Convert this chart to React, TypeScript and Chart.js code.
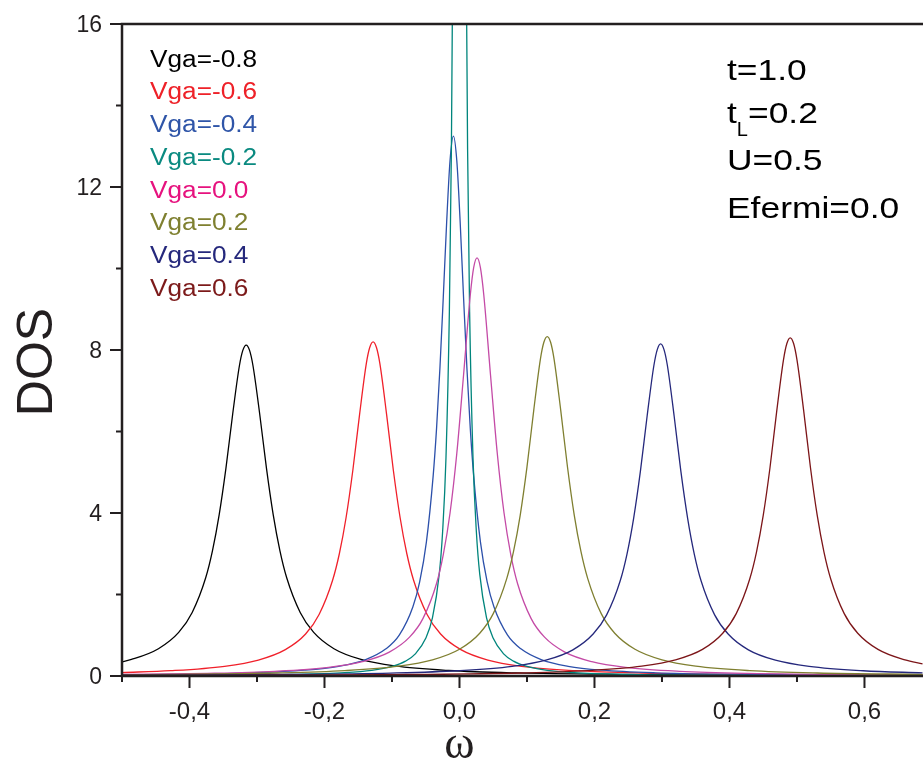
import React, { useEffect, useRef } from 'react';
import { Chart, registerables } from 'chart.js';

Chart.register(...registerables);

// ---------- data ----------
const seriesLabels = ['Vga=-0.8', 'Vga=-0.6', 'Vga=-0.4', 'Vga=-0.2', 'Vga=0.0', 'Vga=0.2', 'Vga=0.4', 'Vga=0.6'];
const lineColors = ['#000000', '#f0202a', '#2c50aa', '#00857c', '#c44aa6', '#7f7f30', '#25287c', '#7c1518'];
const textColors = ['#000000', '#ee2128', '#2f55a8', '#0a8a80', '#e6127e', '#7f8030', '#25287c', '#7c1a1a'];

const paramLines = ['t=1.0', 't_L=0.2', 'U=0.5', 'Efermi=0.0'];

const xTickValues = [-0.5, -0.4, -0.3, -0.2, -0.1, 0.0, 0.1, 0.2, 0.3, 0.4, 0.5, 0.6];
const xTickLabels = ['', '-0,4', '', '-0,2', '', '0,0', '', '0,2', '', '0,4', '', '0,6'];
const yTickValues = [0, 2, 4, 6, 8, 10, 12, 14, 16];
const yTickLabels = ['0', '', '4', '', '8', '', '12', '', '16'];

const omegaVgaM08 = [-0.5, -0.486, -0.446, -0.416, -0.396, -0.376, -0.366, -0.356, -0.346, -0.336, -0.326, -0.321, -0.316, -0.311, -0.306, -0.296, -0.286, -0.276, -0.266, -0.256, -0.236, -0.216, -0.186, -0.146, -0.096, -0.016, 0.084, 0.234, 0.434, 0.686];
const dosVgaM08 = [0.35, 0.406, 0.67, 1.07, 1.56, 2.41, 3.07, 3.96, 5.1, 6.43, 7.62, 7.99, 8.12, 7.99, 7.62, 6.43, 5.1, 3.96, 3.07, 2.41, 1.56, 1.07, 0.67, 0.406, 0.247, 0.135, 0.076, 0.041, 0.022, 0.012];

const omegaVgaM06 = [-0.5, -0.428, -0.348, -0.298, -0.258, -0.228, -0.208, -0.188, -0.178, -0.168, -0.158, -0.148, -0.138, -0.133, -0.128, -0.123, -0.118, -0.108, -0.098, -0.088, -0.078, -0.068, -0.048, -0.028, 0.002, 0.042, 0.092, 0.172, 0.272, 0.422, 0.686];
const dosVgaM06 = [0.085, 0.13, 0.238, 0.39, 0.646, 1.03, 1.51, 2.35, 3.0, 3.89, 5.05, 6.42, 7.67, 8.06, 8.2, 8.06, 7.67, 6.42, 5.05, 3.89, 3.0, 2.35, 1.51, 1.03, 0.646, 0.39, 0.238, 0.13, 0.073, 0.039, 0.018];

const omegaVgaM04 = [-0.5, -0.409, -0.309, -0.229, -0.179, -0.139, -0.109, -0.089, -0.069, -0.059, -0.049, -0.039, -0.034, -0.029, -0.024, -0.019, -0.014, -0.009, -0.004, 0.001, 0.006, 0.011, 0.016, 0.021, 0.031, 0.041, 0.051, 0.071, 0.091, 0.121, 0.161, 0.211, 0.291, 0.391, 0.686];
const dosVgaM04 = [0.029, 0.0437, 0.077, 0.143, 0.238, 0.402, 0.666, 1.01, 1.7, 2.31, 3.29, 4.91, 6.07, 7.55, 9.3, 11.14, 12.65, 13.25, 12.65, 11.14, 9.3, 7.55, 6.07, 4.91, 3.29, 2.31, 1.7, 1.01, 0.666, 0.402, 0.238, 0.143, 0.077, 0.0437, 0.0145];

const omegaVgaM02 = [-0.5, -0.35, -0.25, -0.17, -0.13, -0.1, -0.08, -0.065, -0.05, -0.04, -0.03, -0.025, -0.02, -0.015, -0.012, -0.009, -0.006, -0.003, 0, 0.003, 0.006, 0.009, 0.012, 0.015, 0.02, 0.025, 0.03, 0.04, 0.05, 0.065, 0.08, 0.1, 0.13, 0.17, 0.25, 0.35, 0.5, 0.686];
const dosVgaM02 = [0.0094, 0.019, 0.0375, 0.081, 0.138, 0.234, 0.364, 0.55, 0.924, 1.43, 2.5, 3.54, 5.36, 8.94, 12.93, 19.8, 32.0, 50.7, 63, 50.7, 32.0, 19.8, 12.93, 8.94, 5.36, 3.54, 2.5, 1.43, 0.924, 0.55, 0.364, 0.234, 0.138, 0.081, 0.0375, 0.019, 0.0094, 0.005];

const omegaVga00 = [-0.5, -0.374, -0.274, -0.194, -0.144, -0.104, -0.074, -0.054, -0.034, -0.024, -0.014, -0.004, 0.006, 0.016, 0.021, 0.026, 0.031, 0.036, 0.046, 0.056, 0.066, 0.076, 0.086, 0.106, 0.126, 0.156, 0.196, 0.246, 0.326, 0.426, 0.686];
const dosVga00 = [0.038, 0.065, 0.115, 0.212, 0.351, 0.586, 0.953, 1.415, 2.27, 2.98, 4.0, 5.46, 7.38, 9.35, 10.02, 10.26, 10.02, 9.35, 7.38, 5.46, 4.0, 2.98, 2.27, 1.415, 0.953, 0.586, 0.351, 0.212, 0.115, 0.065, 0.024];

const omegaVga02 = [-0.5, -0.42, -0.27, -0.17, -0.09, -0.04, 0.0, 0.03, 0.05, 0.07, 0.08, 0.09, 0.1, 0.11, 0.12, 0.125, 0.13, 0.135, 0.14, 0.15, 0.16, 0.17, 0.18, 0.19, 0.21, 0.23, 0.26, 0.3, 0.35, 0.43, 0.53, 0.686];
const dosVga02 = [0.03, 0.039, 0.074, 0.132, 0.242, 0.396, 0.656, 1.05, 1.53, 2.39, 3.05, 3.95, 5.13, 6.52, 7.79, 8.19, 8.33, 8.19, 7.79, 6.52, 5.13, 3.95, 3.05, 2.39, 1.53, 1.05, 0.656, 0.396, 0.242, 0.132, 0.074, 0.039];

const omegaVga04 = [-0.5, -0.252, -0.102, -0.002, 0.078, 0.128, 0.168, 0.198, 0.218, 0.238, 0.248, 0.258, 0.268, 0.278, 0.288, 0.293, 0.298, 0.303, 0.308, 0.318, 0.328, 0.338, 0.348, 0.358, 0.378, 0.398, 0.428, 0.468, 0.518, 0.598, 0.686];
const dosVga04 = [0.018, 0.039, 0.073, 0.129, 0.237, 0.388, 0.642, 1.03, 1.5, 2.33, 2.98, 3.87, 5.02, 6.38, 7.62, 8.01, 8.15, 8.01, 7.62, 6.38, 5.02, 3.87, 2.98, 2.33, 1.5, 1.03, 0.642, 0.388, 0.237, 0.129, 0.077];

const omegaVga06 = [-0.5, -0.26, -0.06, 0.09, 0.19, 0.27, 0.32, 0.36, 0.39, 0.41, 0.43, 0.44, 0.45, 0.46, 0.47, 0.48, 0.485, 0.49, 0.495, 0.5, 0.51, 0.52, 0.53, 0.54, 0.55, 0.57, 0.59, 0.62, 0.66, 0.686];
const dosVga06 = [0.012, 0.021, 0.039, 0.074, 0.131, 0.241, 0.395, 0.653, 1.05, 1.53, 2.38, 3.04, 3.94, 5.11, 6.5, 7.76, 8.16, 8.3, 8.16, 7.76, 6.5, 5.11, 3.94, 3.04, 2.38, 1.53, 1.05, 0.653, 0.395, 0.3];

const seriesX = [omegaVgaM08, omegaVgaM06, omegaVgaM04, omegaVgaM02, omegaVga00, omegaVga02, omegaVga04, omegaVga06];
const seriesY = [dosVgaM08, dosVgaM06, dosVgaM04, dosVgaM02, dosVga00, dosVga02, dosVga04, dosVga06];

// ---------- styling ----------
const AXIS_COLOR = '#231f20';
const SANS = '"Liberation Sans", Arial, Helvetica, sans-serif';
const SERIF = '"Liberation Serif", "DejaVu Serif", "Times New Roman", serif';

function stretchedText(ctx: CanvasRenderingContext2D, text: string, x: number, y: number, sx: number, align: CanvasTextAlign = 'left') {
  ctx.save();
  ctx.translate(x, y);
  ctx.scale(sx, 1);
  ctx.textAlign = align;
  ctx.textBaseline = 'alphabetic';
  ctx.fillText(text, 0, 0);
  ctx.restore();
}

const decorPlugin = {
  id: 'decor',
  afterDraw(chart: any) {
    const ctx: CanvasRenderingContext2D = chart.ctx;
    const xs = chart.scales.x;
    const ys = chart.scales.y;
    const { left, right, top, bottom } = chart.chartArea;
    ctx.save();

    // axes frame (left, bottom, top)
    ctx.strokeStyle = AXIS_COLOR;
    ctx.lineWidth = 2.5;
    ctx.lineCap = 'butt';
    ctx.beginPath();
    ctx.moveTo(left, top - 1.25);
    ctx.lineTo(left, bottom + 1.25);
    ctx.moveTo(left - 1.25, bottom);
    ctx.lineTo(right + 2, bottom);
    ctx.moveTo(left - 1.25, top);
    ctx.lineTo(right + 2, top);
    ctx.stroke();

    // ticks
    ctx.lineWidth = 2;
    ctx.beginPath();
    xTickValues.forEach((v, i) => {
      const px = xs.getPixelForValue(v);
      const len = xTickLabels[i] ? 12 : 6;
      ctx.moveTo(px, bottom);
      ctx.lineTo(px, bottom + len);
    });
    yTickValues.forEach((v, i) => {
      const py = ys.getPixelForValue(v);
      const len = yTickLabels[i] ? 12 : 6;
      ctx.moveTo(left, py);
      ctx.lineTo(left - len, py);
    });
    ctx.stroke();

    // tick labels
    ctx.fillStyle = AXIS_COLOR;
    ctx.font = `24px ${SANS}`;
    xTickValues.forEach((v, i) => {
      if (!xTickLabels[i]) return;
      stretchedText(ctx, xTickLabels[i], xs.getPixelForValue(v), 719, 1.0, 'center');
    });
    ctx.font = `23px ${SANS}`;
    yTickValues.forEach((v, i) => {
      if (!yTickLabels[i]) return;
      stretchedText(ctx, yTickLabels[i], 102, ys.getPixelForValue(v) + 8.3, 1.0, 'right');
    });

    // axis titles
    ctx.font = `50px ${SANS}`;
    ctx.save();
    ctx.translate(52, 362);
    ctx.rotate(-Math.PI / 2);
    ctx.textAlign = 'center';
    ctx.textBaseline = 'alphabetic';
    ctx.fillText('DOS', 0, 0);
    ctx.restore();

    ctx.font = `46px ${SERIF}`;
    stretchedText(ctx, '\u03c9', xs.getPixelForValue(0), 758, 1.0, 'center');

    // legend text
    ctx.font = `23px ${SANS}`;
    seriesLabels.forEach((lab, i) => {
      ctx.fillStyle = textColors[i];
      stretchedText(ctx, lab, 150, 66.7 + 32.7 * i, 1.14, 'left');
    });

    // parameter annotations
    ctx.fillStyle = '#000000';
    const sx = 1.18;
    const px0 = 727;
    const baselines = [80, 123, 170, 218];
    paramLines.forEach((line, i) => {
      ctx.font = `30px ${SANS}`;
      if (line.indexOf('_') >= 0) {
        const [base, rest] = line.split('_');
        const sub = rest.charAt(0);
        const tail = rest.slice(1);
        stretchedText(ctx, base, px0, baselines[i], sx);
        let cx = px0 + ctx.measureText(base).width * sx;
        ctx.font = `20px ${SANS}`;
        stretchedText(ctx, sub, cx, baselines[i] + 13, 1.0);
        cx += ctx.measureText(sub).width;
        ctx.font = `30px ${SANS}`;
        stretchedText(ctx, tail, cx, baselines[i], sx);
      } else {
        stretchedText(ctx, line, px0, baselines[i], sx);
      }
    });

    ctx.restore();
  },
};

export default function App() {
  const canvasRef = useRef<HTMLCanvasElement>(null);

  useEffect(() => {
    document.body.style.margin = '0';
    const canvas = canvasRef.current;
    if (!canvas) return;

    const datasets = seriesLabels.map((label, i) => ({
      label,
      data: seriesX[i].map((x, j) => ({ x, y: seriesY[i][j] })),
      borderColor: lineColors[i],
      backgroundColor: lineColors[i],
      borderWidth: 1.3,
      pointRadius: 0,
      fill: false,
      cubicInterpolationMode: 'monotone' as const,
      order: -i,
    }));

    const chart = new Chart(canvas, {
      type: 'line',
      data: { datasets },
      options: {
        animation: false,
        responsive: false,
        devicePixelRatio: 1,
        events: [],
        layout: { padding: { top: 24, right: 0, left: 0, bottom: 0 } },
        plugins: {
          legend: { display: false },
          tooltip: { enabled: false },
          title: { display: false },
        },
        scales: {
          x: {
            type: 'linear',
            min: -0.5,
            max: 0.6867,
            ticks: { display: false },
            grid: { display: false },
            border: { display: false },
            afterFit: (s: any) => { s.height = 87; },
          },
          y: {
            type: 'linear',
            min: 0,
            max: 16,
            ticks: { display: false },
            grid: { display: false },
            border: { display: false },
            afterFit: (s: any) => { s.width = 122; },
          },
        },
      },
      plugins: [decorPlugin],
    });

    return () => chart.destroy();
  }, []);

  return (
    <div style={{ position: 'absolute', left: 0, top: 0, width: 923, height: 763, background: '#ffffff' }}>
      <canvas ref={canvasRef} width={923} height={763} style={{ display: 'block' }} />
    </div>
  );
}
